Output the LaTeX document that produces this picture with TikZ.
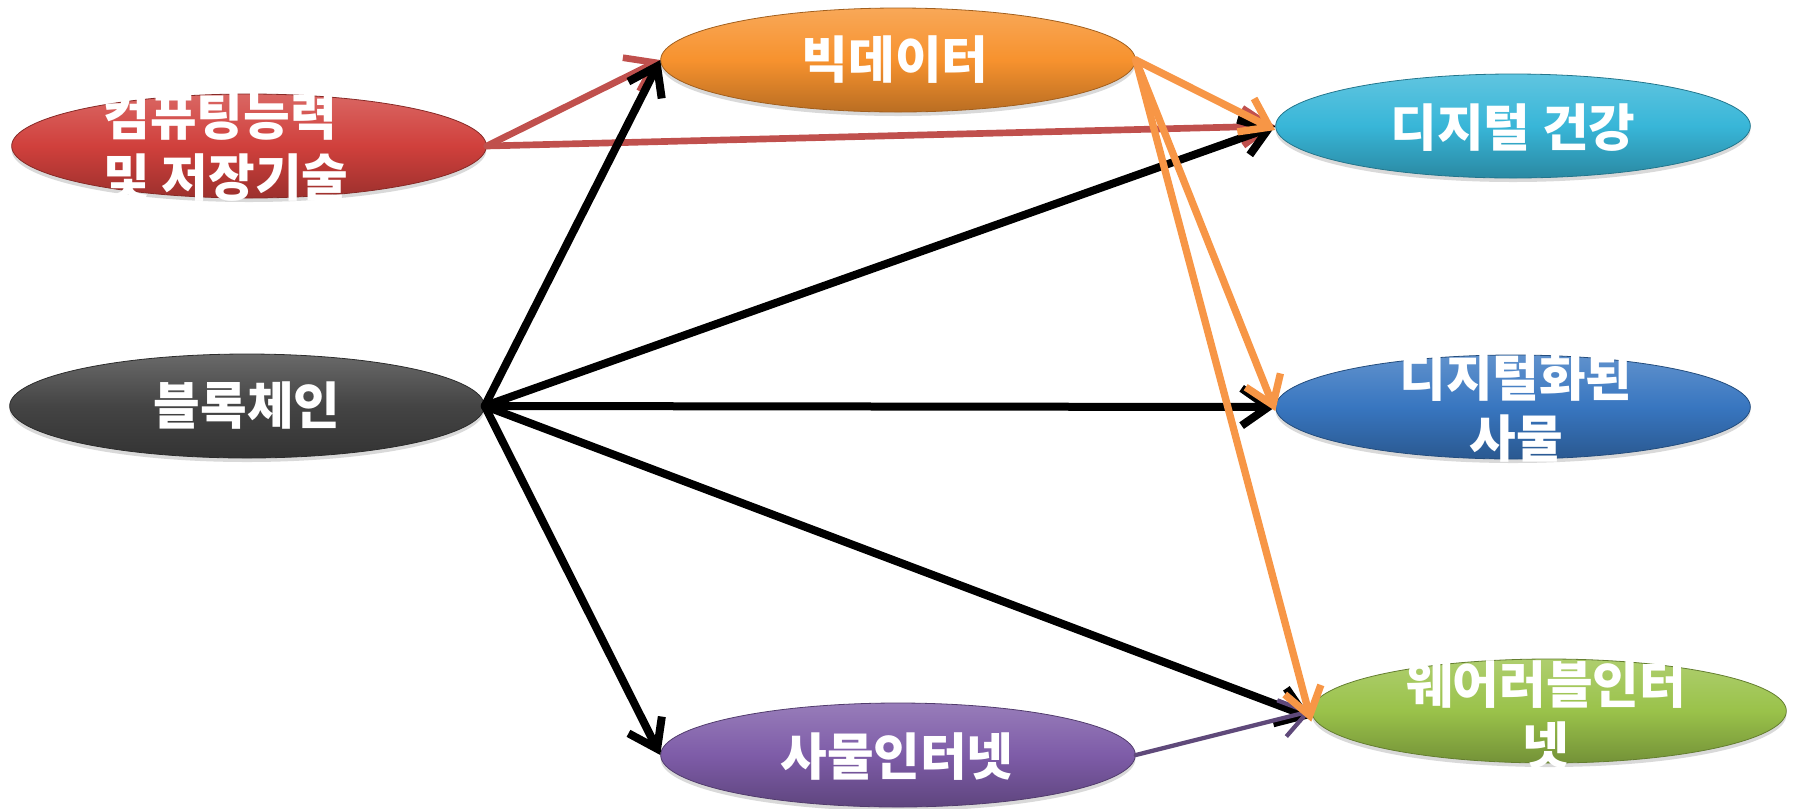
\documentclass[tikz,border=0pt]{standalone}
\usepackage{fontspec}
\newfontfamily\kor{Noto Sans CJK KR}
\usetikzlibrary{arrows.meta,shapes.geometric,shadows}

\definecolor{redLine}{RGB}{192,80,77}
\definecolor{orgLine}{RGB}{247,150,70}
\definecolor{prpLine}{RGB}{95,73,122}
\definecolor{redFill}{RGB}{208,64,60}
\definecolor{orgFill}{RGB}{247,146,46}
\definecolor{cyaFill}{RGB}{56,182,216}
\definecolor{bluFill}{RGB}{56,118,192}
\definecolor{grnFill}{RGB}{154,194,74}
\definecolor{prpFill}{RGB}{126,92,168}
\definecolor{gryFill}{RGB}{68,68,68}

\tikzset{every picture/.style={line width=0.75pt}}
\tikzset{
  oval/.style={ellipse, minimum width=356pt, minimum height=78pt, inner sep=0pt,
    draw=#1!65!black, line width=0.6pt,
    top color=#1!80!white, bottom color=#1!75!black, middle color=#1,
    drop shadow={opacity=0.3, shadow xshift=0pt, shadow yshift=-3pt}},
  txt/.style={text=white, font=\kor\bfseries\fontsize{38}{46}\selectfont, inner sep=0pt},
  conn/.style={line width=6pt, line cap=round, line join=round,
    -{Straight Barb[length=20pt,width=28pt]}},
}

\begin{document}
\begin{tikzpicture}[x=0.75pt,y=0.75pt,yscale=-1,xscale=1]
	\useasboundingbox (0,0) rectangle (1794,808);

	%Shape: Ellipse [red]
	\node [oval=redFill] (comp) at (249,146) {};
	%Shape: Ellipse [gray]
	\node [oval=gryFill] (chain) at (247,406) {};
	%Shape: Ellipse [orange]
	\node [oval=orgFill] (bigd) at (898,60) {};
	%Shape: Ellipse [purple]
	\node [oval=prpFill] (iot) at (898,755) {};
	%Shape: Ellipse [cyan]
	\node [oval=cyaFill] (health) at (1513,126) {};
	%Shape: Ellipse [blue]
	\node [oval=bluFill] (things) at (1513,407) {};
	%Shape: Ellipse [green]
	\node [oval=grnFill] (wear) at (1549,711) {};

	% Text Node
	\node [txt, align=left] (compTxt) at (226,147) {컴퓨팅능력\\및 저장기술};
	\node [txt] (chainTxt) at (247,406) {블록체인};
	\node [txt] (bigdTxt) at (895,60) {빅데이터};
	\node [txt] (iotTxt) at (897,757) {사물인터넷};
	\node [txt] (healthTxt) at (1513,128) {디지털 건강};
	\node [txt, align=center] (thingsTxt) at (1516,408) {디지털화된\\사물};
	\node [txt, align=center] (wearTxt) at (1546,715) {웨어러블인터\\넷};

	%Straight Lines [red]
	\draw [conn, redLine, line width=5pt] (comp.east) -- (bigd.west);
	\draw [conn, redLine, line width=5pt] (comp.east) -- (health.west);
	%Straight Lines [black]
	\draw [conn] (chain.east) -- (bigd.west);
	\draw [conn] (chain.east) -- (health.west);
	\draw [conn] (chain.east) -- (things.west);
	\draw [conn] (chain.east) -- ([yshift=5pt]wear.west);
	\draw [conn] (chain.east) -- (iot.west);
	%Straight Lines [purple]
	\draw [conn, prpLine, line width=3.2pt] (iot.east) -- (wear.west);
	%Straight Lines [orange]
	\draw [conn, orgLine, line width=5.5pt] (bigd.east) -- ([yshift=3pt]health.west);
	\draw [conn, orgLine, line width=5.5pt] (bigd.east) -- ([yshift=3pt]things.west);
	\draw [conn, orgLine, line width=5.5pt] (bigd.east) -- ([yshift=8pt]wear.west);

\end{tikzpicture}
\end{document}
